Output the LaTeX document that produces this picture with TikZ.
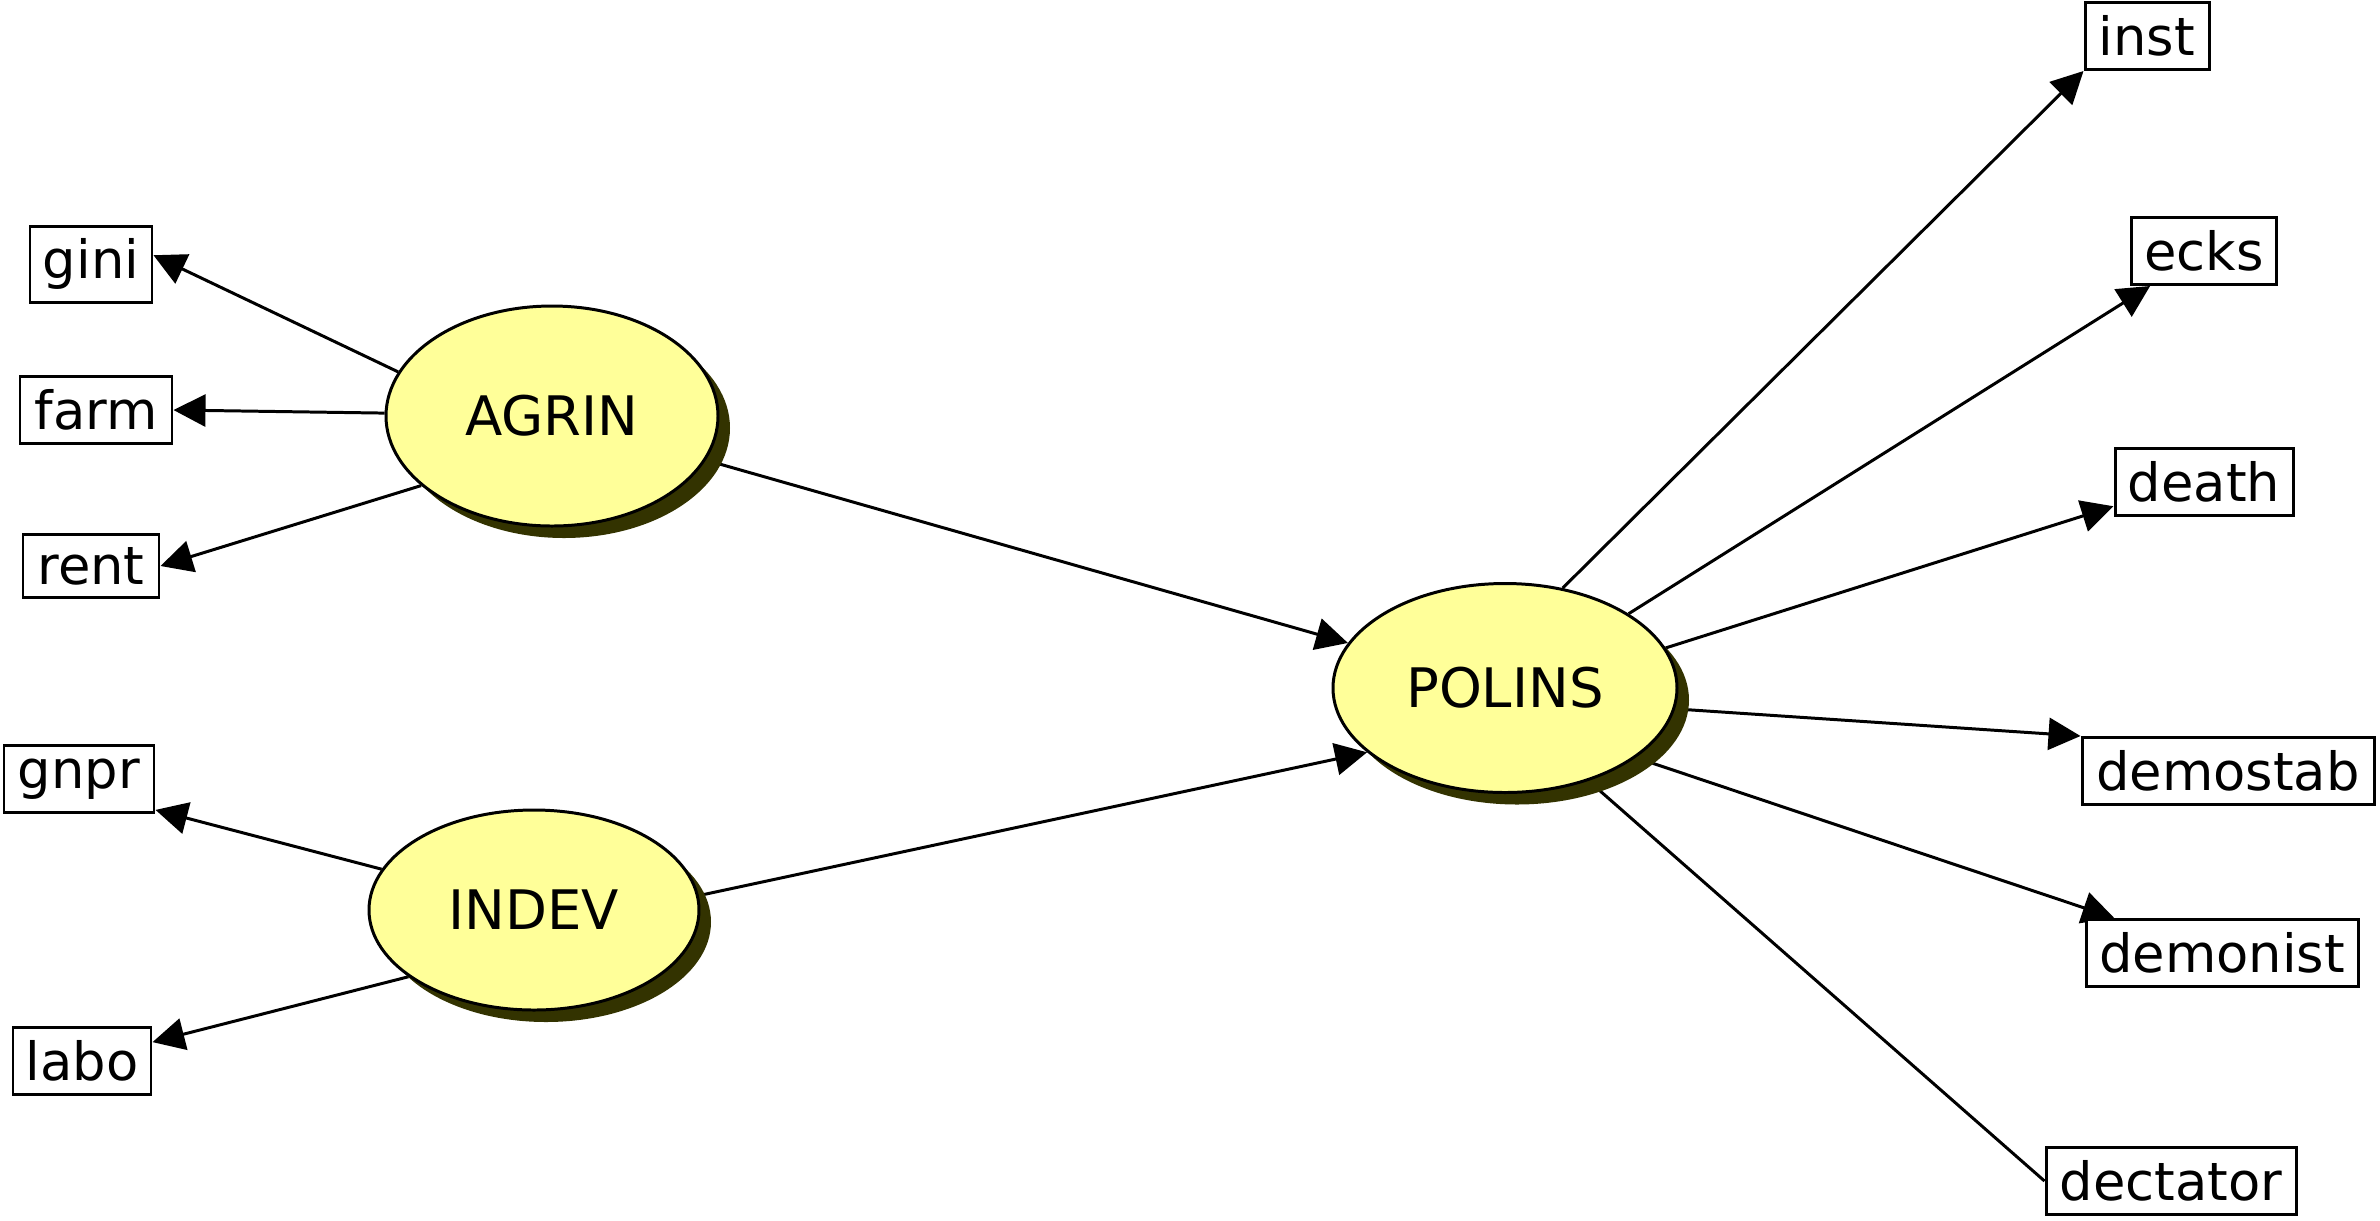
\documentclass[tikz,border=0pt]{standalone}
\usepackage{fontspec}
\setmainfont{DejaVu Sans}
\usetikzlibrary{arrows.meta,shapes.geometric,shadows,backgrounds}
\definecolor{latfill}{RGB}{255,255,153}
\definecolor{latshadow}{RGB}{51,51,0}
\begin{document}
\begin{tikzpicture}[
  obs/.style={draw, line width=0.85pt, inner sep=0pt, minimum height=0.67cm, fill=white, font=\fontsize{15}{18}\selectfont},
  lat/.style={ellipse, draw, line width=0.85pt, fill=latfill, inner sep=0pt, font=\fontsize{15.5}{18}\selectfont,
    drop shadow={shadow xshift=0.12cm, shadow yshift=-0.12cm, fill=latshadow, opacity=1}},
  arr/.style={line width=0.85pt, -{Triangle[length=0.32cm,width=0.32cm]}},
  plainline/.style={line width=0.85pt}
]
\useasboundingbox (0,0) rectangle (23.8,-12.2);

% latent variables
\node[lat, minimum width=3.32cm, minimum height=2.20cm] (AGRIN) at (5.52,-4.16) {AGRIN};
\node[lat, minimum width=3.30cm, minimum height=2.00cm] (INDEV) at (5.34,-9.10) {INDEV};
\node[lat, minimum width=3.44cm, minimum height=2.09cm] (POLINS) at (15.05,-6.88) {POLINS};

% observed variables
\node[obs, minimum width=1.22cm, minimum height=0.76cm] (gini) at (0.91,-2.64) {gini};
\node[obs, minimum width=1.52cm] (farm) at (0.96,-4.10) {farm};
\node[obs, minimum width=1.36cm, minimum height=0.63cm] (rent) at (0.91,-5.66) {rent};
\node[obs, minimum width=1.50cm] (gnpr) at (0.79,-7.79) {gnpr};
\node[obs, minimum width=1.38cm] (labo) at (0.82,-10.61) {labo};
\node[obs, minimum width=1.24cm] (inst) at (21.47,-0.36) {inst};
\node[obs, minimum width=1.45cm] (ecks) at (22.04,-2.51) {ecks};
\node[obs, minimum width=1.78cm] (death) at (22.04,-4.82) {death};
\node[obs, minimum width=2.92cm] (demostab) at (22.28,-7.71) {demostab};
\node[obs, minimum width=2.72cm] (demonist) at (22.22,-9.53) {demonist};
\node[obs, minimum width=2.50cm] (dectator) at (21.71,-11.81) {dectator};

\begin{scope}[on background layer]
\draw[arr] (AGRIN.164) -- (gini.8);
\draw[arr] (AGRIN.179) -- (farm.east);
\draw[arr] (AGRIN.208) -- (rent.east);
\draw[arr] (AGRIN.344) -- (POLINS.164);
\draw[arr] (INDEV.165) -- (gnpr.338);
\draw[arr] (INDEV.208) -- (labo.15);
\draw[arr] (INDEV.5) -- (POLINS.205);
\draw[arr] (POLINS.60) -- (inst.south west);
\draw[arr] (POLINS.31) -- (ecks.213);
\draw[arr] (POLINS.14) -- (death.195);
\draw[arr] (POLINS.353) -- (demostab.north west);
\draw[arr] (POLINS.332) -- (demonist.162);
\draw[plainline] (POLINS.312) -- (dectator.west);
\end{scope}
\end{tikzpicture}
\end{document}
